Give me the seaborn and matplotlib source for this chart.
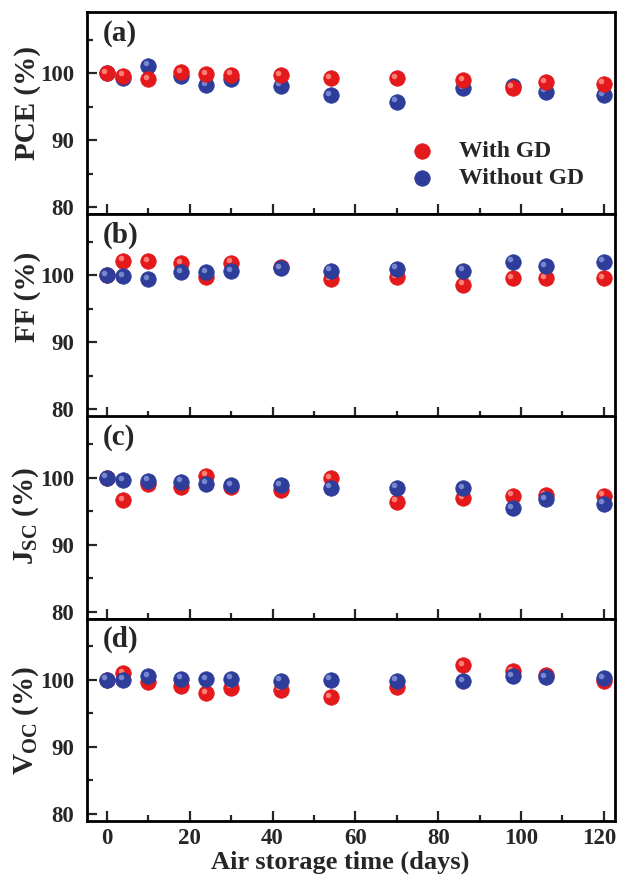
import numpy as np
import pandas as pd
import matplotlib
matplotlib.use("Agg")
import matplotlib.pyplot as plt
from matplotlib.ticker import MultipleLocator
from matplotlib.transforms import offset_copy, ScaledTranslation
import seaborn as sns

# ---------------- data ----------------
days = [0, 4, 10, 18, 24, 30, 42, 54, 70, 86, 98, 106, 120]
series_names = ["With GD", "Without GD"]

pce_with    = [100.0, 99.6, 99.1, 100.1, 99.85, 99.75, 99.7, 99.2, 99.2, 98.9, 97.8, 98.6, 98.4]
pce_without = [100.0, 99.3, 101.1, 99.5, 98.2, 99.1, 98.1, 96.7, 95.7, 97.7, 98.0, 97.2, 96.7]
ff_with     = [100.0, 102.2, 102.1, 101.8, 99.75, 101.9, 101.2, 99.4, 99.7, 98.6, 99.6, 99.6, 99.6]
ff_without  = [100.0, 99.85, 99.4, 100.5, 100.5, 100.6, 101.1, 100.7, 101.0, 100.7, 102.0, 101.4, 102.0]
jsc_with    = [100.0, 96.6, 99.0, 98.6, 100.3, 98.6, 98.2, 99.9, 96.4, 96.9, 97.3, 97.4, 97.3]
jsc_without = [100.0, 99.6, 99.5, 99.4, 99.1, 98.9, 98.9, 98.5, 98.5, 98.4, 95.4, 96.8, 96.1]
voc_with    = [100.0, 101.0, 99.6, 99.1, 98.0, 98.8, 98.5, 97.4, 99.0, 102.2, 101.3, 100.7, 99.75]
voc_without = [100.0, 100.0, 100.5, 100.15, 100.1, 100.15, 99.85, 100.0, 99.85, 99.75, 100.5, 100.4, 100.25]

panel_letters = ["(a)", "(b)", "(c)", "(d)"]
ylabels = ["PCE (%)", "FF (%)", r"J$_{\mathrm{SC}}$ (%)", r"V$_{\mathrm{OC}}$ (%)"]
xlabel = "Air storage time (days)"
yticks_major = [80, 90, 100]
xticks_major = [0, 20, 40, 60, 80, 100, 120]

panels = [
    (pce_with, pce_without),
    (ff_with, ff_without),
    (jsc_with, jsc_without),
    (voc_with, voc_without),
]

# ---------------- style ----------------
sns.set_theme(style="ticks")
plt.rcParams["font.family"] = ["Liberation Serif", "DejaVu Serif"]
plt.rcParams["font.weight"] = "bold"
plt.rcParams["mathtext.fontset"] = "custom"
plt.rcParams["mathtext.rm"] = "Liberation Serif"
plt.rcParams["mathtext.bf"] = "Liberation Serif:bold"

RED = "#e3191c"
BLUE = "#2d3d99"
RED_HI = "#ff8a80"
BLUE_HI = "#7f8fd6"
colors = {"With GD": RED, "Without GD": BLUE}
hi_colors = {"With GD": RED_HI, "Without GD": BLUE_HI}

fig = plt.figure(figsize=(6.17, 8.75), dpi=100)
gs = fig.add_gridspec(4, 1, left=87 / 617, right=615 / 617,
                      top=1 - 12 / 875, bottom=1 - 821 / 875, hspace=0)

label_y = [0.55, 0.59, 0.51, 0.50]

for i, (w, wo) in enumerate(panels):
    ax = fig.add_subplot(gs[i])
    df = pd.DataFrame({
        "day": days * 2,
        "value": list(w) + list(wo),
        "sample": [series_names[0]] * len(days) + [series_names[1]] * len(days),
    })
    order = ["Without GD", "With GD"] if i == 0 else ["With GD", "Without GD"]
    hi_tr = offset_copy(ax.transData, fig=fig, x=-2.4, y=2.4, units="dots")
    for name in order:
        sub = df[df["sample"] == name]
        sns.scatterplot(data=sub, x="day", y="value", ax=ax, color=colors[name],
                        s=125, edgecolor=colors[name], linewidth=0.5,
                        label=name, legend=False, zorder=3)
        sns.scatterplot(data=sub, x="day", y="value", ax=ax, color=hi_colors[name],
                        s=16, linewidth=0, legend=False, zorder=3,
                        transform=hi_tr, alpha=0.9)

    ax.set_xlim(-4.8, 122.7)
    ax.set_ylim(78.95, 109.1)
    ax.set_yticks(yticks_major)
    ax.yaxis.set_minor_locator(MultipleLocator(5))
    ax.set_xticks(xticks_major)
    ax.xaxis.set_minor_locator(MultipleLocator(10))
    ax.tick_params(axis="both", which="major", direction="in", length=7,
                   width=1.6, labelsize=16.5)
    ax.tick_params(axis="both", which="minor", direction="in", length=4.5, width=1.6)
    ax.tick_params(axis="x", which="both", top=False, pad=5)
    ax.tick_params(axis="y", which="both", right=False, pad=9.5)
    for lab in ax.get_yticklabels() + ax.get_xticklabels():
        lab.set_fontweight("bold")
    for sp in ax.spines.values():
        sp.set_linewidth(2)
        sp.set_color("black")

    ax.set_ylabel(ylabels[i], fontsize=21, fontweight="bold")
    ax.yaxis.set_label_coords(-0.087, label_y[i])
    ax.text(0.029, 0.896, panel_letters[i], transform=ax.transAxes,
            fontsize=21, fontweight="bold", va="center", ha="left")

    if i < 3:
        ax.tick_params(axis="x", labelbottom=False)
        ax.set_xlabel("")
    else:
        ax.set_xlabel(xlabel, fontsize=19, fontweight="bold", labelpad=0)
        ax.xaxis.set_label_coords(0.48, -0.148)
        # keep the last tick label inside the figure edge
        last = ax.get_xticklabels()[-1]
        last.set_transform(last.get_transform() +
                           ScaledTranslation(-5 / 100, 0, fig.dpi_scale_trans))

    if i == 0:
        handles, labels = ax.get_legend_handles_labels()
        hmap = dict(zip(labels, handles))
        ax.legend([hmap[n] for n in series_names], series_names,
                  loc="center left", bbox_to_anchor=(0.612, 0.244),
                  frameon=False, borderpad=0, borderaxespad=0,
                  handlelength=1.0, handletextpad=1.05, labelspacing=0.25,
                  prop={"family": "Liberation Serif", "weight": "bold", "size": 17})

fig.savefig("out.png", dpi=100)
